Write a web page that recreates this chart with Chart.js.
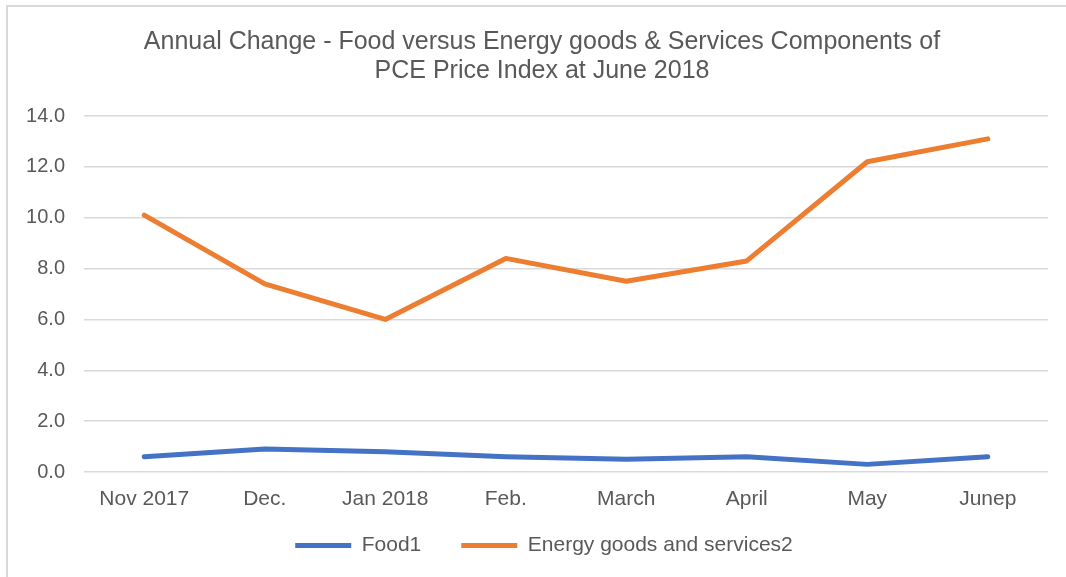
<!DOCTYPE html>
<html>
<head>
<meta charset="utf-8">
<script src="https://cdn.jsdelivr.net/npm/chart.js@4"></script>
<style>
  html, body { margin: 0; padding: 0; background: #ffffff; overflow: hidden; }
  body { width: 1066px; height: 577px; position: relative; }
  .frame {
    position: absolute; left: 6px; top: 5px; width: 1100px; height: 620px;
    border-left: 2px solid #d9d9d9; border-top: 2px solid #d9d9d9;
  }
  .wrap { position: absolute; left: 0; top: 0; width: 1066px; height: 577px; }
</style>
</head>
<body>
<div class="frame"></div>
<div class="wrap"><canvas id="chart" width="1066" height="577"></canvas></div>
<script>
// Monthly annual-change figures (percent)
const months = ['Nov 2017', 'Dec.', 'Jan 2018', 'Feb.', 'March', 'April', 'May', 'Junep'];
const foodValues = [0.6, 0.9, 0.8, 0.6, 0.5, 0.6, 0.3, 0.6];
const energyValues = [10.1, 7.4, 6.0, 8.4, 7.5, 8.3, 12.2, 13.1];
const seriesNames = ['Food1', 'Energy goods and services2'];
const titleLines = [
  'Annual Change - Food versus Energy goods & Services Components of',
  'PCE Price Index at June 2018'
];

const TEXT = '#595959';
const FONT = "'Liberation Sans', Arial, sans-serif";

// Nudge the title and legend blocks so they sit centred on the whole frame
const blockNudge = {
  id: 'blockNudge',
  afterLayout(chart) {
    const t = chart.titleBlock;
    if (t) { t.left += 15; t.right += 15; }
    const l = chart.legend;
    if (l) { l.left += 17; l.right += 17; l.top -= 17; l.bottom -= 17; }
  }
};

new Chart(document.getElementById('chart'), {
  type: 'line',
  data: {
    labels: months,
    datasets: [
      {
        label: seriesNames[0],
        data: foodValues,
        borderColor: '#4472C4',
        backgroundColor: '#4472C4',
        borderWidth: 5,
        borderCapStyle: 'round',
        borderJoinStyle: 'round',
        pointRadius: 0,
        tension: 0
      },
      {
        label: seriesNames[1],
        data: energyValues,
        borderColor: '#ED7D31',
        backgroundColor: '#ED7D31',
        borderWidth: 5,
        borderCapStyle: 'round',
        borderJoinStyle: 'round',
        pointRadius: 0,
        tension: 0
      }
    ]
  },
  options: {
    responsive: false,
    animation: false,
    devicePixelRatio: 1,
    layout: { padding: { left: 6, right: 18, top: 6, bottom: 5 } },
    plugins: {
      title: {
        display: true,
        text: titleLines,
        color: TEXT,
        font: { family: FONT, size: 25, weight: 'normal', lineHeight: 1.18 },
        padding: { top: 21, bottom: 30 }
      },
      legend: {
        position: 'bottom',
        maxHeight: 60,
        labels: {
          color: TEXT,
          font: { family: FONT, size: 21 },
          usePointStyle: true,
          pointStyle: 'line',
          pointStyleWidth: 56,
          padding: 40
        }
      },
      tooltip: { enabled: false }
    },
    scales: {
      x: {
        offset: true,
        grid: { display: false, drawTicks: false },
        border: { display: false },
        ticks: { color: TEXT, font: { family: FONT, size: 21 }, padding: 15, maxRotation: 0 },
        afterFit(scale) { scale.height = 40; }
      },
      y: {
        min: 0,
        max: 14,
        grid: { color: '#d9d9d9', lineWidth: 1.5, drawTicks: false },
        border: { display: false },
        ticks: {
          stepSize: 2,
          color: TEXT,
          font: { family: FONT, size: 20 },
          padding: 19,
          callback: v => v.toFixed(1)
        },
        afterFit(scale) { scale.width = 78; }
      }
    }
  },
  plugins: [blockNudge]
});
</script>
</body>
</html>
